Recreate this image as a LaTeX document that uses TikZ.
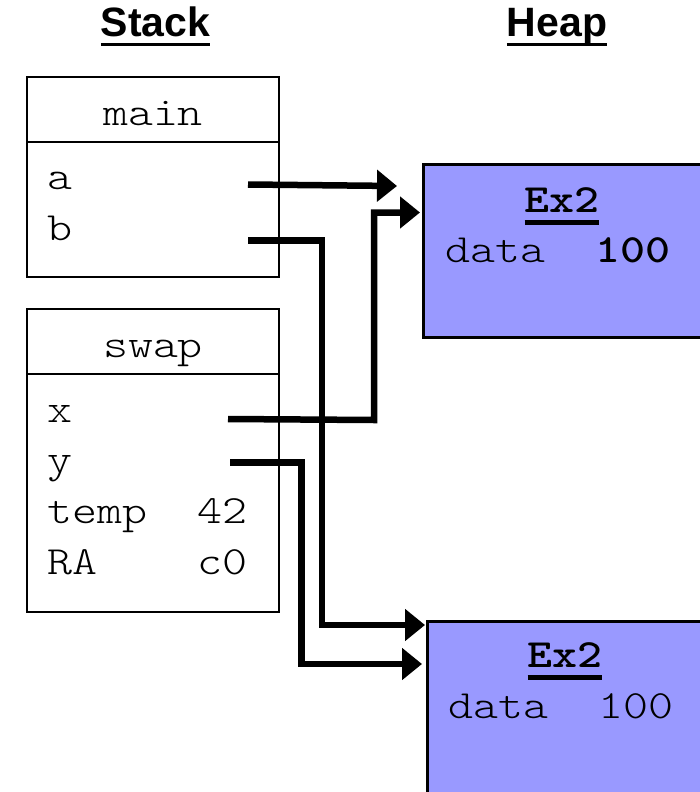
\documentclass[tikz,border=0pt]{standalone}
\usepackage{fontspec}
\usepackage{xcolor}
\usepackage{tikz}
\usetikzlibrary{arrows.meta, positioning}
\setmainfont{Liberation Sans}
\newfontfamily\courfont{lmmonolt10-regular.otf}[FakeStretch=1.19, BoldFont=lmmonolt10-bold.otf]
\definecolor{heapblue}{HTML}{9999FF}
\newcommand{\underl}[3]{\setbox0=\hbox{#3}\rlap{\rule[#1]{\wd0}{#2}}\box0}
\tikzstyle{title} = [anchor=base, inner sep=0pt, font=\bfseries\fontsize{41}{48}\selectfont]
\tikzstyle{framehead} = [rectangle, draw=black, line width=2.5pt, outer sep=0pt, inner sep=0pt, minimum width=252pt, minimum height=65pt, text height=40pt, text depth=8pt, font=\courfont\fontsize{40}{48}\selectfont]
\tikzstyle{framebody} = [rectangle, draw=black, line width=2.5pt, outer sep=0pt, inner sep=0pt, minimum width=252pt]
\tikzstyle{slot} = [anchor=base west, inner sep=0pt, font=\courfont\fontsize{40}{48}\selectfont]
\tikzstyle{object} = [rectangle, draw=black, line width=3pt, fill=heapblue, outer sep=0pt, anchor=north west, minimum width=300pt]
\tikzstyle{ptr} = [line width=6.5pt, -{Triangle[length=20pt, width=31pt]}]

\begin{document}
\begin{tikzpicture}[x=1pt, y=-1pt, node distance=0pt]
  \useasboundingbox (0,0) rectangle (700,792);
  \node (stacklbl) [title] at (155.5,37) {\underl{-9.5pt}{3pt}{Stack}};
  \node (heaplbl) [title] at (557,37) {\underl{-9.5pt}{3pt}{Heap}};

  \node (mainhd) [framehead, anchor=north west] at (27,77) {main};
  \node (mainbody) [framebody, minimum height=135pt, below=of mainhd] {};
  \node (swaphd) [framehead, below=32pt of mainbody] {swap};
  \node (swapbody) [framebody, minimum height=238pt, below=of swaphd] {};

  \node (avar) [slot] at (47,189) {a};
  \node (bvar) [slot] at (47,240) {b};
  \node (xvar) [slot] at (47,422) {x};
  \node (yvar) [slot] at (47,472.5) {y};
  \node (tempvar) [slot] at (47,523.5) {temp\ \ 42};
  \node (ravar) [slot] at (47,574) {RA\ \ \ \ c0};

  \node (obj1) [object, minimum height=173pt] at (423,164) {};
  \node (obj1name) [slot, anchor=base] at (562,212) {\underl{-12.5pt}{4.5pt}{\textbf{Ex2}}};
  \node (obj1data) [slot] at (445,262) {data\ \ \textbf{100}};
  \node (obj2) [object, minimum height=200pt] at (427,621) {};
  \node (obj2name) [slot, anchor=base] at (565,667) {\underl{-12.5pt}{4.5pt}{\textbf{Ex2}}};
  \node (obj2data) [slot] at (448,718) {data\ \ 100};

  \coordinate (aout) at (248,184.5);
  \coordinate (bout) at (248,240.5);
  \coordinate (xout) at (228,419);
  \coordinate (yout) at (230,462.5);
  \coordinate (ain) at (397,186);
  \coordinate (xin) at (420,212.5);
  \coordinate (bin) at (425,625);
  \coordinate (yin) at (422,664);

  \draw[ptr] (aout) -- (ain);
  \draw[ptr] (xout) -- ++(146,1) |- (xin);
  \draw[ptr] (bout) -- ++(74,0) |- (bin);
  \draw[ptr] (yout) -- ++(71.5,0) |- (yin);
\end{tikzpicture}
\end{document}
